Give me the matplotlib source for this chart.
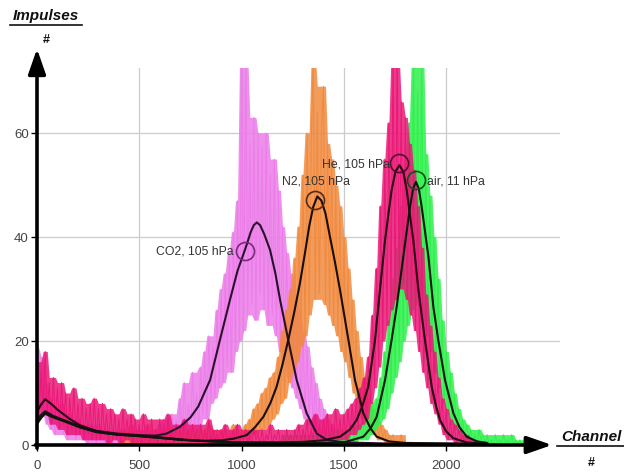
import numpy as np
import pandas as pd
import matplotlib
matplotlib.use('Agg')
import matplotlib.pyplot as plt
from matplotlib.lines import Line2D

plt.rcParams['font.family'] = ['Liberation Sans', 'DejaVu Sans']

# measured spectra, counts every 10 channels ─────────────────────────────

co2_start = 0
co2_counts = [
    20, 9, 17, 6, 12, 4, 9, 3, 7, 2,
    6, 3, 8, 2, 5, 1, 6, 2, 4, 1,
    5, 2, 4, 1, 3, 0, 4, 1, 3, 0,
    4, 1, 2, 0, 3, 1, 2, 0, 3, 1,
    2, 0, 3, 1, 2, 0, 2, 1, 3, 0,
    2, 1, 2, 0, 3, 1, 2, 0, 3, 1,
    4, 1, 5, 1, 4, 2, 6, 1, 5, 2,
    9, 2, 12, 3, 8, 2, 14, 4, 10, 3,
    15, 6, 18, 5, 21, 8, 19, 9, 26, 11,
    30, 12, 33, 15, 37, 14, 41, 18, 47, 20,
    75, 22, 75, 25, 58, 27, 63, 24, 60, 29,
    57, 26, 60, 23, 52, 25, 55, 21, 49, 18,
    42, 16, 37, 13, 33, 11, 29, 9, 26, 7,
    22, 5, 19, 4, 15, 3, 12, 2, 9, 1,
    7, 1, 5, 0, 4, 0, 3, 1, 2, 0,
    1,
]

n2_start = 400
n2_counts = [
    2, 0, 3, 1, 2, 0, 4, 1, 2, 0,
    3, 1, 2, 0, 4, 1, 2, 0, 3, 1,
    2, 0, 3, 1, 4, 0, 2, 1, 3, 0,
    2, 1, 3, 0, 2, 0, 3, 1, 2, 0,
    3, 0, 2, 1, 4, 0, 2, 1, 3, 0,
    2, 1, 3, 0, 2, 1, 4, 0, 3, 1,
    3, 1, 4, 1, 5, 2, 7, 2, 8, 3,
    10, 3, 11, 4, 13, 5, 14, 6, 17, 8,
    22, 9, 26, 12, 30, 14, 36, 16, 42, 19,
    52, 21, 60, 25, 57, 75, 28, 64, 29, 60,
    69, 27, 58, 25, 55, 23, 50, 21, 46, 18,
    40, 16, 34, 13, 28, 10, 22, 8, 17, 5,
    13, 4, 10, 3, 7, 2, 5, 1, 4, 1,
    3, 0, 2, 1, 2, 0, 1, 0, 2, 0,
    1,
]

he_start = 0
he_counts = [
    16, 5, 14, 7, 18, 6, 12, 4, 13, 5,
    11, 3, 12, 4, 10, 2, 9, 3, 11, 2,
    8, 2, 9, 1, 7, 2, 8, 1, 9, 1,
    7, 1, 8, 2, 6, 0, 7, 1, 6, 1,
    5, 0, 7, 1, 5, 1, 6, 0, 5, 1,
    4, 0, 6, 1, 4, 0, 5, 1, 3, 0,
    5, 1, 4, 0, 6, 1, 3, 0, 4, 1,
    3, 0, 5, 1, 3, 0, 4, 1, 3, 0,
    4, 0, 3, 1, 5, 0, 3, 1, 2, 0,
    3, 1, 4, 0, 2, 1, 3, 0, 4, 0,
    2, 1, 3, 0, 2, 0, 3, 1, 2, 0,
    3, 0, 2, 1, 4, 0, 2, 1, 3, 0,
    2, 0, 3, 1, 2, 0, 3, 1, 4, 0,
    3, 1, 5, 0, 3, 1, 6, 1, 4, 0,
    5, 1, 6, 0, 4, 1, 7, 1, 5, 1,
    6, 1, 7, 2, 8, 2, 9, 3, 11, 4,
    13, 5, 17, 8, 25, 11, 34, 15, 46, 20,
    55, 23, 62, 26, 75, 28, 75, 30, 66, 31,
    63, 28, 58, 25, 53, 22, 46, 18, 38, 14,
    29, 11, 23, 8, 18, 6, 13, 4, 9, 2,
    7, 1, 5, 1, 4, 0, 3, 1, 2, 0,
    2, 0, 1, 0, 1, 0,
]

air_start = 1200
air_counts = [
    1, 0, 2, 0, 1, 0, 2, 1, 0, 1,
    2, 0, 1, 0, 2, 1, 0, 2, 1, 0,
    2, 0, 3, 1, 2, 0, 3, 0, 2, 1,
    3, 0, 2, 1, 4, 0, 3, 1, 4, 1,
    5, 1, 6, 2, 8, 3, 9, 4, 13, 5,
    18, 7, 24, 10, 32, 13, 38, 16, 46, 20,
    54, 23, 62, 26, 75, 28, 68, 27, 75, 24,
    56, 21, 48, 18, 40, 14, 32, 11, 24, 8,
    18, 6, 14, 4, 10, 3, 7, 2, 5, 1,
    4, 1, 3, 0, 2, 0, 3, 1, 2, 0,
    2, 0, 1, 0, 2, 0, 1, 0, 2, 0,
    1, 0, 2, 0, 1, 0, 1, 0, 0, 1,
    0,
]

# fitted curves ───────────────────────────────────────────────────

fit_co2_ch = [0, 20, 40, 80, 130, 210, 290, 390, 500, 580, 634, 699, 750, 788,
              846, 894, 943, 980, 1017, 1045, 1060, 1074, 1090, 1110, 1139,
              1165, 1188, 1228, 1269, 1318, 1367, 1416, 1500, 1700, 2200]
fit_co2_val = [5.0, 5.8, 6.5, 5.6, 4.8, 3.6, 2.7, 2.2, 1.9, 1.8, 2.2, 3.5, 5.3,
               7.4, 12.5, 20.2, 27.9, 33.5, 37.6, 41.0, 42.3, 42.8, 42.3, 40.6,
               37.5, 33.0, 27.9, 20.2, 12.5, 6.1, 2.2, 1.0, 0.5, 0.3, 0.2]

fit_n2_ch = [0, 20, 40, 80, 130, 210, 290, 390, 500, 620, 700, 800, 900, 960,
             1025, 1065, 1106, 1140, 1171, 1200, 1228, 1257, 1285, 1310, 1330,
             1350, 1370, 1390, 1410, 1432, 1457, 1481, 1522, 1554, 1595, 1630,
             1660, 1720, 1800, 2200]
fit_n2_val = [4.5, 5.4, 6.2, 5.4, 4.7, 3.4, 2.5, 2.0, 1.7, 1.3, 1.0, 0.8, 0.9,
              1.2, 1.9, 3.4, 5.4, 8.0, 11.2, 15.5, 20.2, 25.5, 31.1, 37.0, 42.0,
              45.8, 47.8, 47.0, 44.5, 40.0, 35.0, 29.8, 20.2, 12.5, 6.1, 3.2,
              1.6, 0.7, 0.4, 0.2]

fit_he_ch = [0, 20, 40, 70, 100, 160, 210, 290, 390, 500, 620, 700, 800, 900,
             1000, 1100, 1200, 1300, 1400, 1481, 1530, 1562, 1590, 1619, 1652,
             1676, 1701, 1720, 1733, 1752, 1771, 1790, 1807, 1825, 1839, 1864,
             1896, 1929, 1950, 1970, 2000, 2035, 2100, 2200]
fit_he_val = [6.4, 7.8, 8.8, 7.9, 6.8, 5.0, 3.8, 2.7, 2.1, 1.8, 1.4, 1.1, 0.8,
              0.6, 0.5, 0.5, 0.5, 0.6, 0.9, 1.6, 3.0, 4.8, 7.5, 11.2, 20.2,
              29.8, 39.4, 45.2, 49.0, 52.6, 53.8, 52.6, 49.0, 43.5, 39.4, 29.8,
              20.2, 11.2, 7.5, 4.8, 2.6, 1.3, 0.5, 0.2]

fit_air_ch = [0, 20, 40, 80, 130, 210, 290, 390, 500, 620, 700, 800, 900, 1000,
              1200, 1400, 1500, 1595, 1630, 1660, 1701, 1733, 1758, 1790, 1823,
              1838, 1852, 1866, 1880, 1913, 1937, 1961, 1994, 2035, 2065, 2100,
              2150, 2200]
fit_air_val = [4.0, 5.2, 6.0, 5.3, 4.6, 3.4, 2.5, 2.0, 1.7, 1.3, 1.0, 0.8, 0.6,
               0.5, 0.4, 0.4, 0.5, 1.6, 3.2, 5.4, 12.5, 20.2, 26.6, 36.2, 45.8,
               49.3, 50.6, 49.3, 45.8, 36.2, 26.6, 20.2, 12.5, 6.1, 3.4, 1.6,
               0.7, 0.4]

# peak markers and their labels
labels = ['CO2, 105 hPa', 'N2, 105 hPa', 'He, 105 hPa', 'air, 11 hPa']
mark_ch = [1017, 1360, 1771, 1852]
mark_val = [37.4, 47.2, 54.3, 51.0]
label_ch = [960, 1197, 1393, 1906]
label_val = [37.2, 50.6, 54.0, 50.6]
label_ha = ['right', 'left', 'left', 'left']

# ─────────────────────────────────────────────

W, H = 624, 475
fig = plt.figure(figsize=(W / 100, H / 100), dpi=100)
ax = fig.add_axes([37 / W, 30 / H, 523 / W, 377 / H])

spectra = [
    (co2_start, co2_counts, '#ec7ce9'),
    (n2_start, n2_counts, '#f08a3e'),
    (air_start, air_counts, '#2ef04c'),
    (he_start, he_counts, '#ea1877'),
]
for start, counts, col in spectra:
    ch = np.arange(len(counts)) * 10 + start
    s = pd.Series(counts, dtype=float)
    # the trace jumps channel to channel, so it reads as a band;
    # lone spikes are left to the thin line
    hi = s.rolling(3, center=True, min_periods=1).max()
    hi = hi.rolling(5, center=True, min_periods=1).median()
    lo = s.rolling(3, center=True, min_periods=1).min()
    lo = lo.rolling(5, center=True, min_periods=1).median()
    ax.fill_between(ch, lo, hi, color=col, lw=0, alpha=0.85, zorder=2)
    ax.plot(ch, counts, color=col, lw=0.7, zorder=2)

fits = [
    (fit_co2_ch, fit_co2_val, '#2a0f2a'),
    (fit_n2_ch, fit_n2_val, '#1a0e08'),
    (fit_he_ch, fit_he_val, '#2a0514'),
    (fit_air_ch, fit_air_val, '#0a1a0a'),
]
for ch, val, col in fits:
    ax.plot(ch, val, color=col, lw=1.5, zorder=3)

circle_cols = ['#7a2a7a', '#5a2a10', '#5a0a2a', '#1a4a1a']
for i in range(len(labels)):
    ax.plot(mark_ch[i], mark_val[i], 'o', ms=13, mfc='none', mec=circle_cols[i],
            mew=1.2, zorder=4)
    ax.text(label_ch[i], label_val[i], labels[i], ha=label_ha[i], va='center',
            fontsize=8.8, color='#333333', zorder=5)

ax.set_xlim(0, 2556)
ax.set_ylim(0, 72.5)
ax.set_xticks([0, 500, 1000, 1500, 2000])
ax.set_yticks([0, 20, 40, 60])
ax.grid(color='#cccccc', lw=0.9)
ax.set_axisbelow(True)
for sp in ax.spines.values():
    sp.set_visible(False)
ax.tick_params(axis='both', length=4, width=1, color='black',
               labelsize=9.5, labelcolor='#444444')
ax.tick_params(axis='x', pad=7)
ax.tick_params(axis='y', pad=2)

# axes drawn as arrows
arrow = dict(arrowstyle='-|>,head_length=0.95,head_width=0.33', lw=2.6,
             color='black', shrinkA=0, shrinkB=0, mutation_scale=16)
ax.annotate('', xy=(2517, 0), xytext=(-8, 0), arrowprops=arrow,
            annotation_clip=False, zorder=6)
ax.annotate('', xy=(0, 76.2), xytext=(0, -0.6), arrowprops=arrow,
            annotation_clip=False, zorder=6)

# axis titles, underlined
fig.text(46 / W, 1 - 16 / H, 'Impulses', ha='center', va='center',
         fontsize=11, fontweight='bold', fontstyle='italic', color='#111111')
fig.add_artist(Line2D([10 / W, 82 / W], [1 - 25 / H, 1 - 25 / H], color='#111111', lw=1.2))
fig.text(46 / W, 1 - 40 / H, '#', ha='center', va='center',
         fontsize=9, fontweight='bold', color='#111111')

fig.text(591 / W, 1 - 437 / H, 'Channel', ha='center', va='center',
         fontsize=11, fontweight='bold', fontstyle='italic', color='#111111')
fig.add_artist(Line2D([557 / W, 624 / W], [1 - 446 / H, 1 - 446 / H], color='#111111', lw=1.2))
fig.text(591 / W, 1 - 463 / H, '#', ha='center', va='center',
         fontsize=9, fontweight='bold', color='#111111')

fig.savefig('out.png', dpi=100)
